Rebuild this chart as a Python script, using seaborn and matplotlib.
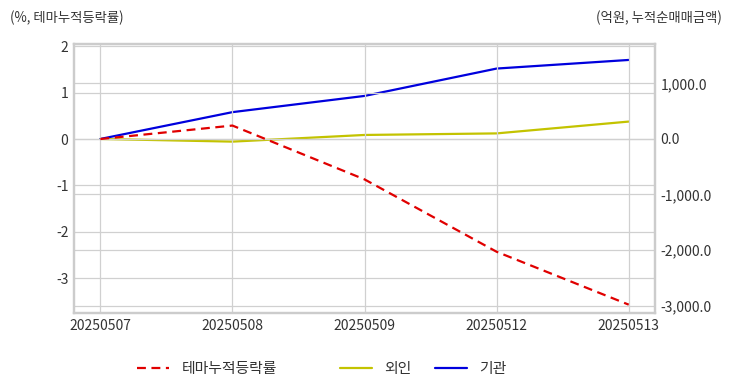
import matplotlib
matplotlib.use("Agg")
import matplotlib.pyplot as plt
from matplotlib.ticker import FuncFormatter, FixedLocator
import seaborn as sns
import pandas as pd

# --- 데이터 ---
dates = ["20250507", "20250508", "20250509", "20250512", "20250513"]
theme_rate = [0.0, 0.29, -0.87, -2.43, -3.57]      # %, left axis
foreign = [0.0, -48.0, 72.0, 100.0, 313.0]          # 억원, right axis
institution = [0.0, 483.0, 775.0, 1268.0, 1423.0]   # 억원, right axis

df = pd.DataFrame({"idx": range(len(dates)), "date": dates,
                   "theme": theme_rate, "foreign": foreign, "inst": institution})

sns.set_theme(style="whitegrid")
plt.rcParams['font.family'] = ['Noto Sans CJK KR', 'DejaVu Sans']
plt.rcParams['axes.unicode_minus'] = False

text_color = "#333333"
grid_color = "#d0d0d0"

fig = plt.figure(figsize=(7.32, 3.92), dpi=100)
ax = fig.add_axes([0.101, 0.2015, 0.794, 0.6865])
ax2 = ax.twinx()

sns.lineplot(data=df, x="idx", y="theme", ax=ax, color="#e00000",
             linestyle=(0, (4, 2.5)), linewidth=1.6, label="테마누적등락률", legend=False)
sns.lineplot(data=df, x="idx", y="foreign", ax=ax2, color="#c3c300",
             linewidth=1.6, label="외인", legend=False)
sns.lineplot(data=df, x="idx", y="inst", ax=ax2, color="#0000dd",
             linewidth=1.6, label="기관", legend=False)

ax.set_xlim(-0.2, 4.2)
ax.set_ylim(-3.75, 2.05)
ax2.set_ylim(-3135, 1712)

ax.xaxis.set_major_locator(FixedLocator(range(len(dates))))
ax.set_xticklabels(dates)
ax.yaxis.set_major_locator(FixedLocator([2, 1, 0, -1, -2, -3]))
ax.yaxis.set_major_formatter(FuncFormatter(lambda v, p: f"{v:.0f}"))
ax2.yaxis.set_major_locator(FixedLocator([1000, 0, -1000, -2000, -3000]))
ax2.yaxis.set_major_formatter(FuncFormatter(lambda v, p: f"{v:,.1f}"))

for a in (ax, ax2):
    a.set_xlabel("")
    a.set_ylabel("")
    a.grid(True, color=grid_color, linewidth=0.9)
    a.tick_params(colors=text_color, labelsize=10, length=0, pad=4)
    for s in a.spines.values():
        s.set_color("#cccccc")
        s.set_linewidth(1.6)
ax2.grid(True, axis="y", color=grid_color, linewidth=0.9)
ax2.grid(False, axis="x")
ax.set_zorder(ax2.get_zorder() + 1)
ax.patch.set_visible(False)

fig.text(0.014, 0.955, "(%, 테마누적등락률)", fontsize=9.6, color=text_color, ha="left", va="center")
fig.text(0.986, 0.955, "(억원, 누적순매매금액)", fontsize=9.6, color=text_color, ha="right", va="center")

# 범례: 항목별로 위치 지정
h1, l1 = ax.get_legend_handles_labels()
h2, l2 = ax2.get_legend_handles_labels()
legend_x = [133, 336, 431]
for h, l, lx in zip(h1 + h2, l1 + l2, legend_x):
    fig.legend([h], [l], loc="center left", bbox_to_anchor=(lx / 732, 1 - 369 / 392),
               frameon=False, fontsize=10.7, labelcolor=text_color, handlelength=2.1,
               handletextpad=0.85, borderaxespad=0, borderpad=0.3)

fig.savefig("out.png", dpi=100)
